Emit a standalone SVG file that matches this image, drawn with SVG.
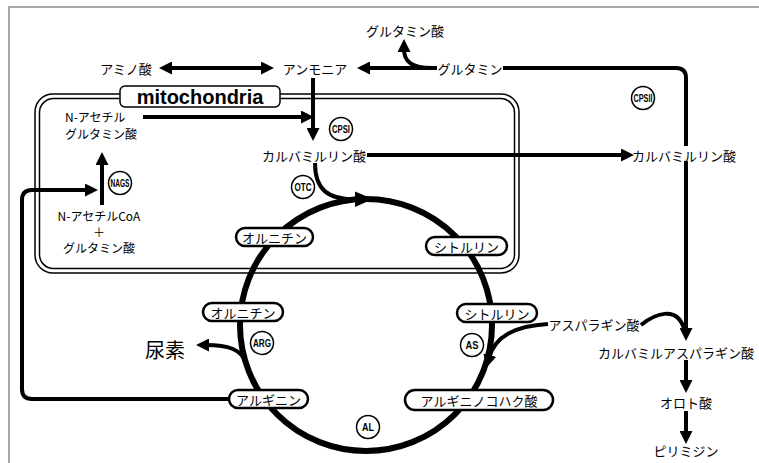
<svg xmlns="http://www.w3.org/2000/svg" width="759" height="463" viewBox="0 0 759 463">
<style>
  text { font-family: "Noto Sans CJK JP", "Noto Sans", sans-serif; fill: #000; }
  .t { font-size: 13px; dominant-baseline: central; text-anchor: middle; }
  .s { font-size: 12px; }
  .ts { font-size: 12px; dominant-baseline: central; text-anchor: start; }
  .pill rect { fill: #fff; stroke: #000; stroke-width: 2.5; }
  .enz circle { fill: #fff; stroke: #000; stroke-width: 1.5; }
  .enz text { font-family: "Liberation Sans", Arial, sans-serif; font-weight: bold; font-size: 10px; dominant-baseline: central; text-anchor: middle; }
  .c { fill: none; stroke: #000; stroke-width: 4; }
  .ca { fill: none; stroke: #000; stroke-width: 4; marker-end: url(#ah); }
</style>
<defs>
  <marker id="ah" viewBox="0 0 13 13" refX="3" refY="6.5" markerWidth="13" markerHeight="13" markerUnits="userSpaceOnUse" orient="auto-start-reverse">
    <path d="M0,0 L13,6.5 L0,13 z" fill="#000"/>
  </marker>
</defs>
<rect width="759" height="463" fill="#fff"/>
<path d="M9,463 L9,7 L759,7" fill="none" stroke="#8a8a8a" stroke-width="1.5"/>

<g id="mitochondria">
  <rect x="35" y="94" width="484" height="179" rx="18" fill="none" stroke="#000" stroke-width="1.5"/>
  <rect x="39.5" y="98.5" width="475" height="170" rx="14" fill="none" stroke="#000" stroke-width="1.5"/>
  <rect x="120" y="86" width="160" height="21" rx="5" fill="#fff" stroke="#000" stroke-width="1.5"/>
  <text x="200" y="97" style="font-family:'Liberation Sans',Arial,sans-serif;font-weight:bold;font-size:20px;dominant-baseline:central;text-anchor:middle">mitochondria</text>
</g>

<g id="connectors">
  <circle cx="366" cy="325" r="126" fill="none" stroke="#000" stroke-width="6"/>
  <polygon points="373,199 355,191.5 355,207" fill="#000"/>
  <path class="c" d="M315,163 C315,190 328,199.5 356,199.5"/>
  <path class="ca" d="M169,68 L264,68" marker-start="url(#ah)"/>
  <path class="ca" d="M437,68 L367,68"/>
  <path class="ca" d="M432,68 C412,68 404,62 404,49"/>
  <path class="c" d="M503,68 L676,68 Q686,68 686,78 L686,146"/>
  <path class="ca" d="M686,161 L686,331"/>
  <path class="c" d="M641,325 C652,316 678,302 685,332"/>
  <path class="ca" d="M313,78 L313,131"/>
  <path class="ca" d="M143,117 L304,117"/>
  <path class="ca" d="M367,155 L624,155"/>
  <path class="ca" d="M686,360 L686,383"/>
  <path class="ca" d="M686,411 L686,434"/>
  <path class="ca" d="M102,205 L102,162"/>
  <path class="ca" d="M229,399 L32,399 Q22,399 22,389 L22,200 Q22,190 32,190 L88,190"/>
  <path class="ca" d="M246,363 C241,349 228,345 206,345"/>
  <path class="ca" d="M548,324 C515,326 495,336 489,358"/>
</g>

<g id="n-aminoacid"><text class="t" x="126" y="68">アミノ酸</text></g>
<g id="n-ammonia"><text class="t" x="315" y="68">アンモニア</text></g>
<g id="n-glutamine"><text class="t" x="470" y="68">グルタミン</text></g>
<g id="n-glutamate-top"><text class="t" x="405" y="30">グルタミン酸</text></g>
<g id="n-nag"><text class="ts" x="65" y="116">N-アセチル</text><text class="ts" x="65" y="133">グルタミン酸</text></g>
<g id="n-carbp-mito"><text class="t" x="314" y="155">カルバミルリン酸</text></g>
<g id="n-carbp"><text class="t" x="684" y="155">カルバミルリン酸</text></g>
<g id="n-acoa"><text class="t s" x="99" y="215">N-アセチルCoA</text><text class="t s" x="99" y="231">＋</text><text class="t s" x="99" y="247">グルタミン酸</text></g>
<g id="n-asp"><text class="t" x="594" y="324">アスパラギン酸</text></g>
<g id="n-carbasp"><text class="t" x="676" y="352">カルバミルアスパラギン酸</text></g>
<g id="n-orotate"><text class="t" x="686" y="402">オロト酸</text></g>
<g id="n-pyrimidine"><text class="t" x="686" y="450">ピリミジン</text></g>
<g id="n-urea"><text x="165" y="349" style="font-size:20px;dominant-baseline:central;text-anchor:middle">尿素</text></g>

<g id="p-orn1" class="pill"><rect x="236" y="228" width="77" height="18" rx="9"/><text class="t" x="274.5" y="237">オルニチン</text></g>
<g id="p-orn2" class="pill"><rect x="203" y="303" width="80" height="18" rx="9"/><text class="t" x="243" y="312">オルニチン</text></g>
<g id="p-arg" class="pill"><rect x="229" y="390" width="79" height="18" rx="9"/><text class="t" x="268.5" y="399">アルギニン</text></g>
<g id="p-cit1" class="pill"><rect x="426" y="237" width="81" height="18" rx="9"/><text class="t" x="466.5" y="246">シトルリン</text></g>
<g id="p-cit2" class="pill"><rect x="457" y="304" width="80" height="18" rx="9"/><text class="t" x="497" y="313">シトルリン</text></g>
<g id="p-argsucc" class="pill"><rect x="405" y="390" width="148" height="20" rx="10"/><text class="t" x="479" y="400">アルギニノコハク酸</text></g>

<g id="e-cpsi" class="enz"><circle cx="341" cy="129" r="11.5"/><text x="341" y="129" textLength="18" lengthAdjust="spacingAndGlyphs">CPSI</text></g>
<g id="e-cpsii" class="enz"><circle cx="643" cy="98" r="11.5"/><text x="643" y="98" textLength="19" lengthAdjust="spacingAndGlyphs">CPSII</text></g>
<g id="e-otc" class="enz"><circle cx="303" cy="187" r="11.5"/><text x="303" y="187" textLength="17" lengthAdjust="spacingAndGlyphs">OTC</text></g>
<g id="e-nags" class="enz"><circle cx="120" cy="183" r="11.5"/><text x="120" y="183" textLength="19" lengthAdjust="spacingAndGlyphs">NAGS</text></g>
<g id="e-arg" class="enz"><circle cx="262" cy="343" r="11.5"/><text x="262" y="343" textLength="18" lengthAdjust="spacingAndGlyphs">ARG</text></g>
<g id="e-as" class="enz"><circle cx="472" cy="345" r="11.5"/><text x="472" y="345" textLength="13" lengthAdjust="spacingAndGlyphs">AS</text></g>
<g id="e-al" class="enz"><circle cx="368" cy="427" r="11.5"/><text x="368" y="427" textLength="12" lengthAdjust="spacingAndGlyphs">AL</text></g>
</svg>
